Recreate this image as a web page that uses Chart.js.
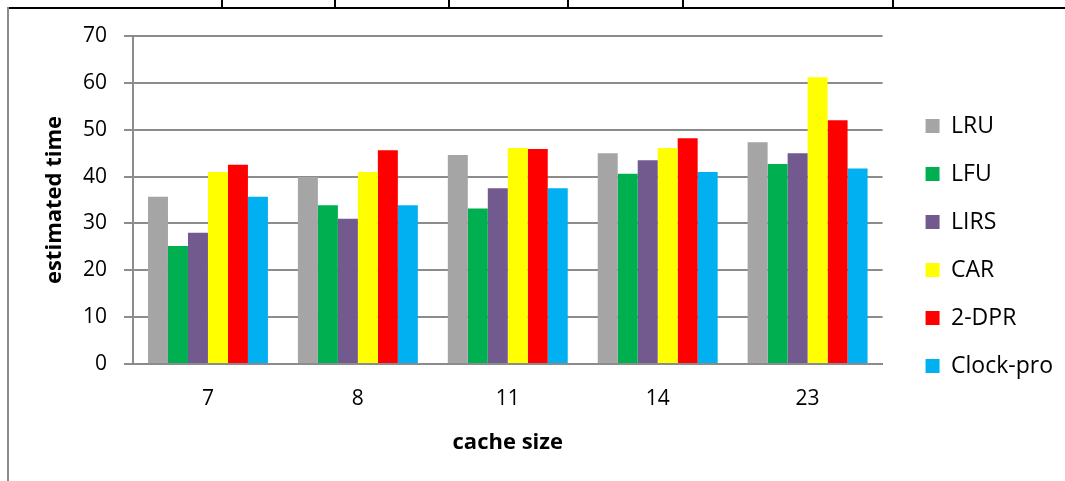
<!DOCTYPE html>
<html>
<head>
<meta charset="utf-8">
<script src="https://cdn.jsdelivr.net/npm/chart.js@4.4.1/dist/chart.umd.min.js"></script>
<style>
  html, body { margin: 0; padding: 0; background: #fff; }
  #wrap { position: relative; width: 1065px; height: 481px; overflow: hidden; }
  #chart { position: absolute; left: 0; top: 0; }
  .rule { position: absolute; background: #000; }
</style>
</head>
<body>
<div id="wrap">
  <canvas id="chart" width="1065" height="481"></canvas>
  <div class="rule" style="left:8px; top:7px; width:1057px; height:2px;"></div>
  <div class="rule" style="left:7px; top:7px; width:2px; height:474px; background:#8c8c8c;"></div>
  <div class="rule" style="left:221px; top:0; width:2px; height:8px;"></div>
  <div class="rule" style="left:334px; top:0; width:2px; height:8px;"></div>
  <div class="rule" style="left:448px; top:0; width:2px; height:8px;"></div>
  <div class="rule" style="left:567px; top:0; width:2px; height:8px;"></div>
  <div class="rule" style="left:682px; top:0; width:2px; height:8px;"></div>
  <div class="rule" style="left:892px; top:0; width:2px; height:8px;"></div>
</div>
<script>
const cacheSizes = ['7', '8', '11', '14', '23'];
const lruTimes = [35.7, 39.9, 44.6, 45.0, 47.3];
const lfuTimes = [25.2, 33.9, 33.2, 40.6, 42.7];
const lirsTimes = [28.0, 31.0, 37.5, 43.5, 45.0];
const carTimes = [41.0, 41.0, 46.1, 46.1, 61.2];
const dprTimes = [42.5, 45.6, 45.9, 48.2, 52.0];
const clockProTimes = [35.7, 33.9, 37.5, 41.0, 41.7];
const yTicks = [0, 10, 20, 30, 40, 50, 60, 70];

const fontFamily = '"Open Sans", "Noto Sans", sans-serif';
Chart.defaults.color = '#000';
Chart.defaults.font.family = fontFamily;

const ctx = document.getElementById('chart').getContext('2d');

function series(label, values, color) {
    return {
        label: label,
        data: values,
        backgroundColor: color,
        borderWidth: 0,
        categoryPercentage: 0.8,
        barPercentage: 1.0
    };
}

new Chart(ctx, {
    type: 'bar',
    data: {
        labels: cacheSizes,
        datasets: [
            series('LRU', lruTimes, '#a5a5a5'),
            series('LFU', lfuTimes, '#00b050'),
            series('LIRS', lirsTimes, '#725a8e'),
            series('CAR', carTimes, '#ffff00'),
            series('2-DPR', dprTimes, '#ff0000'),
            series('Clock-pro', clockProTimes, '#00b0f0')
        ]
    },
    options: {
        responsive: false,
        animation: false,
        layout: {
            padding: { left: 10, top: 36, bottom: 25, right: 2 }
        },
        plugins: {
            tooltip: { enabled: false },
            legend: {
                position: 'right',
                labels: {
                    boxWidth: 14,
                    boxHeight: 14,
                    padding: 25,
                    font: { size: 23 }
                }
            }
        },
        scales: {
            x: {
                grid: { display: false, drawTicks: false },
                border: { display: true, color: '#8c8c8c', width: 2 },
                ticks: { padding: 22, font: { size: 21 } },
                title: {
                    display: true,
                    text: 'cache size',
                    font: { size: 22, weight: 'bold' },
                    padding: { top: 20, bottom: 0 }
                },
                afterFit: (scale) => { scale.height = 92; }
            },
            y: {
                min: 0,
                max: 70,
                afterBuildTicks: (scale) => {
                    scale.ticks = yTicks.map(v => ({ value: v }));
                },
                grid: { color: '#8c8c8c', lineWidth: 2, tickLength: 9 },
                border: { display: true, color: '#8c8c8c', width: 2 },
                ticks: { padding: 17, font: { size: 21 } },
                title: {
                    display: true,
                    text: 'estimated time',
                    font: { size: 22, weight: 'bold' },
                    padding: { top: 32, bottom: 18 }
                },
                afterFit: (scale) => { scale.width = 123; }
            },
            gap: {
                type: 'linear',
                position: 'right',
                grid: { display: false },
                border: { display: false },
                ticks: { display: false },
                afterFit: (scale) => { scale.width = 18; }
            }
        }
    }
});
</script>
</body>
</html>
